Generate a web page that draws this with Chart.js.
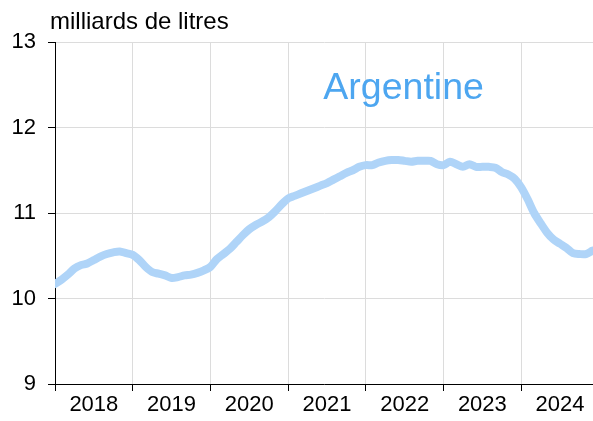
<!DOCTYPE html>
<html>
<head>
<meta charset="utf-8">
<script src="https://cdn.jsdelivr.net/npm/chart.js@4"></script>
<style>
  body { margin: 0; background: #fff; }
  #wrap { width: 593px; height: 421px; position: relative; }
</style>
</head>
<body>
<div id="wrap"><canvas id="chart"></canvas></div>
<script>
// monthly volumes, Jan 2018 -> Dec 2024 (milliards de litres)
const startYear = 2018
const years = [2018, 2019, 2020, 2021, 2022, 2023, 2024]
const values = [
  10.17, 10.22, 10.28, 10.35, 10.39, 10.41, 10.45, 10.49, 10.52, 10.54, 10.55, 10.53,
  10.51, 10.45, 10.37, 10.31, 10.29, 10.27, 10.24, 10.25, 10.27, 10.28, 10.30, 10.33,
  10.37, 10.46, 10.52, 10.58, 10.66, 10.74, 10.81, 10.86, 10.90, 10.95, 11.02, 11.10,
  11.17, 11.20, 11.23, 11.26, 11.29, 11.32, 11.35, 11.39, 11.43, 11.47, 11.50, 11.54,
  11.56, 11.56, 11.59, 11.61, 11.62, 11.62, 11.61, 11.60, 11.61, 11.61, 11.61, 11.57,
  11.56, 11.60, 11.57, 11.54, 11.57, 11.54, 11.54, 11.54, 11.53, 11.48, 11.45, 11.40,
  11.30, 11.16, 11.00, 10.88, 10.77, 10.69, 10.64, 10.59, 10.53, 10.52, 10.52, 10.56
]
const yTicks = [9, 10, 11, 12, 13]
const unitLabel = "milliards de litres"
const countryName = "Argentine"

let points = values.map((v, i) => ({ x: startYear + i / 12, y: v }))

// draws the unit label and the country name
const textPlugin = {
  id: "texts",
  afterDraw(chart) {
    let ctx = chart.ctx
    let area = chart.chartArea
    ctx.save()
    ctx.textBaseline = "alphabetic"
    ctx.fillStyle = "#000"
    ctx.font = "24px 'Liberation Sans', Arial, sans-serif"
    ctx.textAlign = "left"
    ctx.fillText(unitLabel, 50, 29)
    ctx.fillStyle = "rgb(77, 166, 240)"
    ctx.font = "37.5px 'Liberation Sans', Arial, sans-serif"
    ctx.textAlign = "center"
    ctx.fillText(countryName, area.left + (area.right - area.left) * 0.648, 99)
    ctx.restore()
  }
}

let canvas = document.querySelector("#chart")
new Chart(canvas, {
  type: "line",
  data: {
    datasets: [{
      data: points,
      borderColor: "rgb(175, 212, 248)",
      borderWidth: 8,
      pointRadius: 0,
      tension: 0.3,
      borderCapStyle: "round",
      borderJoinStyle: "round",
      fill: false
    }]
  },
  options: {
    responsive: true,
    maintainAspectRatio: false,
    animation: false,
    layout: { padding: { top: 42, left: 0, right: 0, bottom: 0 } },
    plugins: {
      legend: { display: false },
      tooltip: { enabled: false }
    },
    scales: {
      x: {
        type: "linear",
        min: startYear,
        max: startYear + 6.924,
        afterBuildTicks(scale) {
          scale.ticks = years.map(y => ({ value: y + 0.5 }))
        },
        afterFit(scale) { scale.height = 37 },
        grid: {
          offset: true,
          color: "#dcdcdc",
          tickColor: "#000",
          tickLength: 7
        },
        border: { color: "#000", width: 1 },
        ticks: {
          autoSkip: false,
          maxRotation: 0,
          padding: 1,
          color: "#000",
          font: { family: "'Liberation Sans', Arial, sans-serif", size: 22 },
          callback: v => String(Math.floor(v))
        }
      },
      y: {
        min: yTicks[0],
        max: yTicks[yTicks.length - 1],
        afterBuildTicks(scale) {
          scale.ticks = yTicks.map(v => ({ value: v }))
        },
        afterFit(scale) { scale.width = 55 },
        grid: {
          color: "#dcdcdc",
          tickColor: "#000",
          tickLength: 7
        },
        border: { color: "#000", width: 1 },
        ticks: {
          padding: 12,
          color: "#000",
          font: { family: "'Liberation Sans', Arial, sans-serif", size: 22 }
        }
      }
    }
  },
  plugins: [textPlugin]
})
</script>
</body>
</html>
